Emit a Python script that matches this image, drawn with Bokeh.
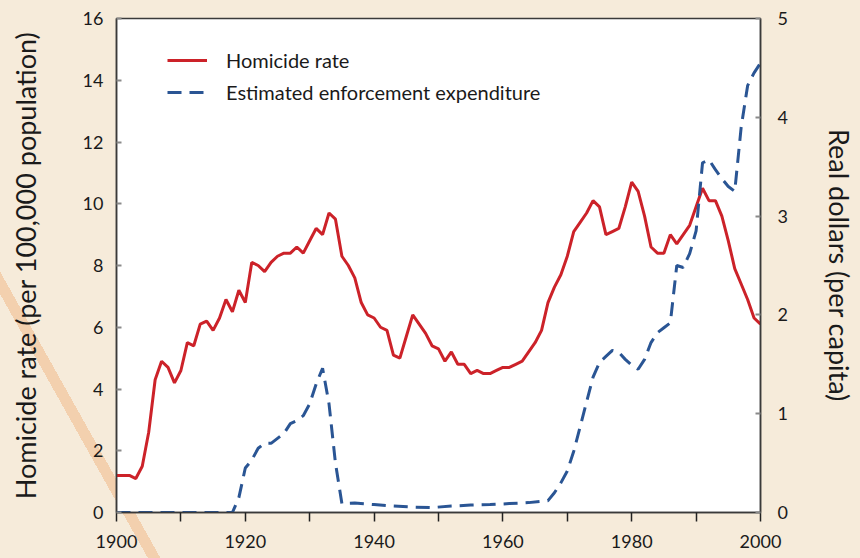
from bokeh.plotting import figure
from bokeh.models import (Range1d, LinearAxis, FixedTicker, Legend, LegendItem,
                          GlobalInlineStyleSheet)
from bokeh.embed import file_html
from bokeh.resources import INLINE

# ---------------- data ----------------
hom_years = list(range(1900, 2001))
hom_rate = [1.2, 1.2, 1.2, 1.1, 1.5, 2.6, 4.3, 4.9, 4.7, 4.2,
            4.6, 5.5, 5.4, 6.1, 6.2, 5.9, 6.3, 6.9, 6.5, 7.2,
            6.8, 8.1, 8.0, 7.8, 8.1, 8.3, 8.4, 8.4, 8.6, 8.4,
            8.8, 9.2, 9.0, 9.7, 9.5, 8.3, 8.0, 7.6, 6.8, 6.4,
            6.3, 6.0, 5.9, 5.1, 5.0, 5.7, 6.4, 6.1, 5.8, 5.4,
            5.3, 4.9, 5.2, 4.8, 4.8, 4.5, 4.6, 4.5, 4.5, 4.6,
            4.7, 4.7, 4.8, 4.9, 5.2, 5.5, 5.9, 6.8, 7.3, 7.7,
            8.3, 9.1, 9.4, 9.7, 10.1, 9.9, 9.0, 9.1, 9.2, 9.9,
            10.7, 10.4, 9.6, 8.6, 8.4, 8.4, 9.0, 8.7, 9.0, 9.3,
            9.9, 10.5, 10.1, 10.1, 9.6, 8.8, 7.9, 7.4, 6.9, 6.3,
            6.1]

exp_years = [1900, 1905, 1910, 1915, 1918, 1919, 1920, 1921, 1922, 1923,
             1924, 1925, 1926, 1927, 1928, 1929, 1930, 1931, 1932, 1933,
             1934, 1935, 1937, 1940, 1943, 1946, 1949, 1952, 1955, 1958,
             1961, 1964, 1967, 1968, 1969, 1970, 1971, 1972, 1973, 1974,
             1975, 1976, 1977, 1978, 1979, 1980, 1981, 1982, 1983, 1984,
             1985, 1986, 1987, 1988, 1989, 1990, 1991, 1992, 1993, 1994,
             1995, 1996, 1997, 1998, 1999, 2000]
exp_dollars = [0.0, 0.0, 0.0, 0.0, 0.0, 0.15, 0.45, 0.53, 0.65, 0.70,
               0.70, 0.75, 0.80, 0.90, 0.93, 0.98, 1.10, 1.30, 1.46, 1.10,
               0.50, 0.09, 0.095, 0.08, 0.065, 0.055, 0.05, 0.065, 0.075, 0.08,
               0.09, 0.10, 0.12, 0.20, 0.30, 0.42, 0.62, 0.87, 1.12, 1.37,
               1.52, 1.58, 1.64, 1.62, 1.55, 1.49, 1.45, 1.55, 1.72, 1.82,
               1.87, 1.92, 2.50, 2.48, 2.62, 2.85, 3.54, 3.57, 3.47, 3.38,
               3.30, 3.25, 3.90, 4.32, 4.45, 4.55]

x_ticks = list(range(1900, 2001, 10))
x_tick_labels = {t: (str(t) if t % 20 == 0 else "") for t in x_ticks}
left_ticks = [0, 2, 4, 6, 8, 10, 12, 14, 16]
right_ticks = [0, 1, 2, 3, 4, 5]

# ---------------- style ----------------
FONT = "Lato"
TXT = "#1a1a1a"
RED = "#cc2229"
BLUE = "#2a5594"
BG = "#f6ebda"
STRIPE = "#f3d0ae"

css = GlobalInlineStyleSheet(css=f"""
html, body {{
  background-color: {BG};
  background-image: linear-gradient(60.75deg, rgba(0,0,0,0) 129px, {STRIPE} 129px,
                                    {STRIPE} 140px, rgba(0,0,0,0) 140px);
  background-size: 860px 558px;
  background-repeat: no-repeat;
  background-attachment: fixed;
}}
""")

p = figure(frame_width=644, frame_height=494, output_backend="svg",
           toolbar_location=None,
           x_range=Range1d(1900, 2000), y_range=Range1d(0, 16),
           min_border_left=116, min_border_right=84, min_border_top=18,
           min_border_bottom=32)
p.stylesheets = [css]
p.border_fill_color = None
p.background_fill_color = "white"
p.outline_line_color = "#3a3a3a"
p.outline_line_width = 1.5
p.grid.visible = False

p.extra_y_ranges = {"dollars": Range1d(0, 5)}

# lines
r_hom = p.line(hom_years, hom_rate, line_color=RED, line_width=3)
r_exp = p.line(exp_years, exp_dollars, line_color=BLUE, line_width=3,
               line_dash="14 8", y_range_name="dollars")

# x axis
xa = p.xaxis[0]
xa.ticker = FixedTicker(ticks=x_ticks)
xa.major_label_overrides = x_tick_labels
xa.minor_tick_line_color = None
xa.major_tick_in = 0
xa.major_tick_out = 9
xa.major_tick_line_color = "#222222"
xa.major_tick_line_width = 1.5
xa.axis_line_color = "#3a3a3a"
xa.axis_line_width = 1.5
xa.major_label_standoff = 13
xa.major_label_text_font = FONT
xa.major_label_text_font_size = "18px"
xa.major_label_text_color = TXT

# left axis
ya = p.yaxis[0]
ya.ticker = FixedTicker(ticks=left_ticks)
ya.minor_tick_line_color = None
ya.major_tick_in = 5
ya.major_tick_out = 0
ya.major_tick_line_color = "#8a8a8a"
ya.major_tick_line_width = 2
ya.axis_line_color = "#3a3a3a"
ya.axis_line_width = 1.5
ya.major_label_standoff = 13
ya.major_label_text_font = FONT
ya.major_label_text_font_size = "18px"
ya.major_label_text_color = TXT
ya.axis_label = "Homicide rate (per 100,000 population)"
ya.axis_label_text_font = FONT
ya.axis_label_text_font_size = "27px"
ya.axis_label_text_font_style = "normal"
ya.axis_label_text_color = TXT
ya.axis_label_standoff = 38

# right axis
ra = LinearAxis(y_range_name="dollars", ticker=FixedTicker(ticks=right_ticks))
ra.minor_tick_line_color = None
ra.major_tick_in = 5
ra.major_tick_out = 0
ra.major_tick_line_color = "#8a8a8a"
ra.major_tick_line_width = 2
ra.axis_line_color = "#3a3a3a"
ra.axis_line_width = 1.5
ra.major_label_standoff = 17
ra.major_label_text_font = FONT
ra.major_label_text_font_size = "18px"
ra.major_label_text_color = TXT
ra.axis_label = "Real dollars (per capita)"
ra.axis_label_text_font = FONT
ra.axis_label_text_font_size = "27px"
ra.axis_label_text_font_style = "normal"
ra.axis_label_text_color = TXT
ra.axis_label_standoff = 32
p.add_layout(ra, "right")

# legend
legend = Legend(items=[LegendItem(label="Homicide rate", renderers=[r_hom]),
                       LegendItem(label="Estimated enforcement expenditure", renderers=[r_exp])],
                location=(51, 408))
legend.background_fill_alpha = 0
legend.border_line_color = None
legend.glyph_width = 40
legend.glyph_height = 20
legend.label_standoff = 19
legend.spacing = 8
legend.padding = 4
legend.label_text_font = FONT
legend.label_text_font_size = "20px"
legend.label_text_color = TXT
p.add_layout(legend)

open("out.html", "w").write(file_html(p, INLINE))
